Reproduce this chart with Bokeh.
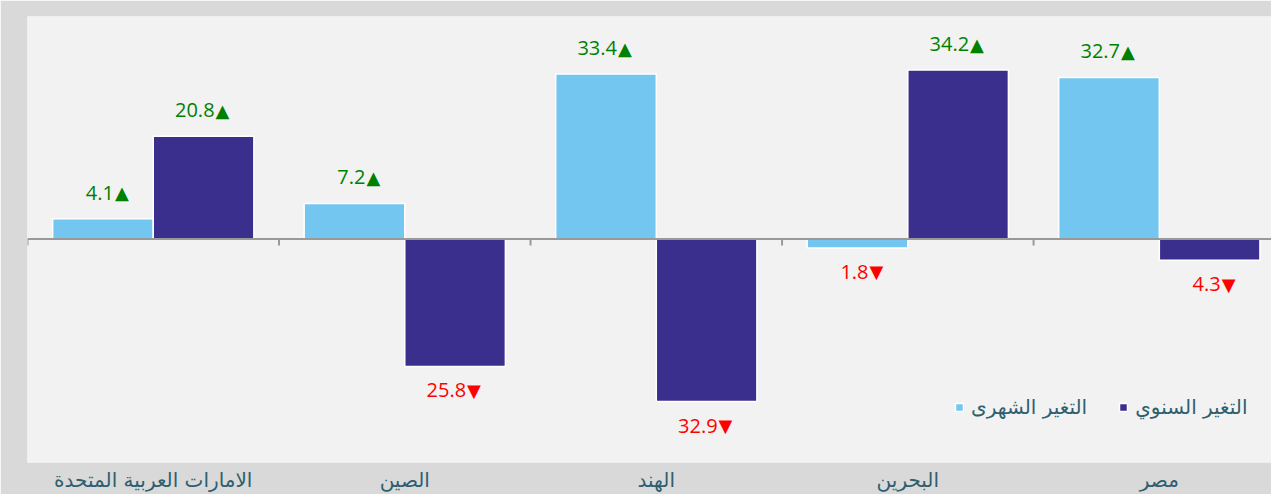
from bokeh.plotting import figure
from bokeh.models import ColumnDataSource, Span, Legend, LegendItem, FixedTicker
from bokeh.core.properties import value
from bokeh.transform import dodge
from bokeh.embed import file_html
from bokeh.resources import INLINE

categories = ["الامارات العربية المتحدة", "الصين", "الهند", "البحرين", "مصر"]
monthly = [4.1, 7.2, 33.4, -1.8, 32.7]
annual = [20.8, -25.8, -32.9, 34.2, -4.3]
series_names = ["التغير الشهرى", "التغير السنوي"]

LIGHT = "#72c6ef"
DARK = "#3b2f8e"
TEXT_C = "#2f5f6f"
NUM_FONT = "Open Sans"
AR_FONT = "DejaVu Sans"

centers = [i + 0.5 for i in range(len(categories))]
boundaries = list(range(len(categories) + 1))

p = figure(width=1271, height=494, output_backend="svg", toolbar_location=None,
           x_range=(0, 4.946), y_range=(-45.25, 45.05),
           min_border_left=27, min_border_right=0, min_border_top=16, min_border_bottom=31)
p.border_fill_color = "#d9d9d9"
p.background_fill_color = "#f2f2f2"
p.outline_line_color = None
p.grid.visible = False
p.yaxis.visible = False

src = ColumnDataSource(dict(x=centers, monthly=monthly, annual=annual))
r1 = p.vbar(x=dodge("x", -0.2, range=p.x_range), top="monthly", width=0.4, source=src,
            fill_color=LIGHT, line_color="white", line_width=1.5)
r2 = p.vbar(x=dodge("x", 0.2, range=p.x_range), top="annual", width=0.4, source=src,
            fill_color=DARK, line_color="white", line_width=1.5)

# zero line and boundary ticks
p.add_layout(Span(location=0, dimension="width", line_color="#999999", line_width=2))
p.segment(x0=boundaries, x1=boundaries, y0=[0] * len(boundaries), y1=[-1.3] * len(boundaries),
          line_color="#999999", line_width=2)

# value labels: number + triangle
for vals, off in ((monthly, -0.2), (annual, 0.2)):
    for sign in (1, -1):
        sel = [(c + off, v) for c, v in zip(centers, vals) if (v >= 0) == (sign > 0)]
        if not sel:
            continue
        xs = [a[0] for a in sel]
        ys = [a[1] for a in sel]
        nums = [f"{abs(a[1]):.1f}" for a in sel]
        col = "#008000" if sign > 0 else "#ff0000"
        tri = "▲" if sign > 0 else "▼"
        yo = -26 if sign > 0 else 24
        p.text(x=xs, y=ys, text=nums, text_align="right", text_baseline="alphabetic",
               x_offset=11, y_offset=yo,
               text_font=value(NUM_FONT), text_font_size="20px", text_color=col)
        p.text(x=xs, y=ys, text=[tri] * len(xs), text_align="left", text_baseline="alphabetic",
               x_offset=12, y_offset=yo,
               text_font=value("DejaVu Sans"), text_font_size="18px", text_color=col)

# category axis
ax = p.xaxis[0]
ax.ticker = FixedTicker(ticks=centers)
ax.major_label_overrides = {c: n for c, n in zip(centers, categories)}
ax.axis_line_color = None
ax.major_tick_line_color = None
ax.minor_tick_line_color = None
ax.major_tick_out = 0
ax.major_tick_in = 0
ax.major_label_standoff = 5
ax.major_label_text_font = AR_FONT
ax.major_label_text_font_size = "20px"
ax.major_label_text_color = TEXT_C

legend = Legend(items=[LegendItem(label=series_names[0], renderers=[r1]),
                       LegendItem(label=series_names[1], renderers=[r2])],
                orientation="horizontal", location=(927, 43),
                background_fill_alpha=0, border_line_color=None,
                glyph_width=10, glyph_height=10, label_standoff=7, spacing=31,
                padding=0, margin=0,
                label_text_font=AR_FONT, label_text_font_size="20px", label_text_color=TEXT_C)
p.add_layout(legend)

open("out.html", "w").write(file_html(p, INLINE))
